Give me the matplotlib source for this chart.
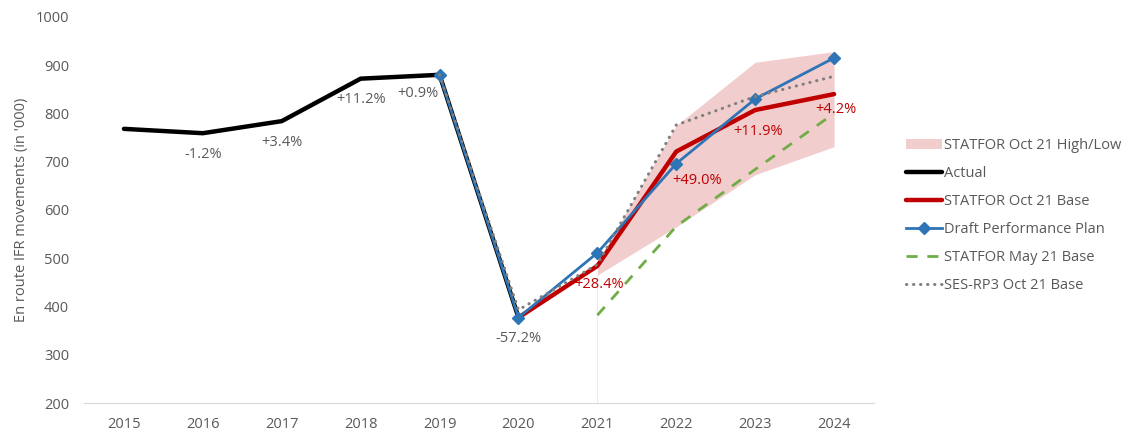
import matplotlib.pyplot as plt
import numpy as np

plt.rcParams['font.family'] = ['Open Sans', 'DejaVu Sans']

years = [2015, 2016, 2017, 2018, 2019, 2020, 2021, 2022, 2023, 2024]

# traffic in thousands of en route IFR movements
actual_years = [2015, 2016, 2017, 2018, 2019, 2020]
actual = [768, 759, 784, 872, 880, 377]
actual_labels = ['', '-1.2%', '+3.4%', '+11.2%', '+0.9%', '-57.2%']

base_years = [2020, 2021, 2022, 2023, 2024]
oct21_base = [377, 484, 721, 807, 840]
base_labels = ['', '+28.4%', '+49.0%', '+11.9%', '+4.2%']

band_years = [2021, 2022, 2023, 2024]
oct21_high = [492, 775, 906, 928]
oct21_low = [465, 565, 673, 731]

plan_years = [2019, 2020, 2021, 2022, 2023, 2024]
draft_plan = [880, 377, 511, 696, 830, 915]

may21_years = [2021, 2022, 2023, 2024]
may21_base = [382, 566, 684, 800]

rp3_years = [2019, 2020, 2021, 2022, 2023, 2024]
rp3_base = [880, 393, 487, 776, 835, 877]

grey = '#595959'

fig = plt.figure(figsize=(11.28, 4.34), dpi=100)
ax = fig.add_axes([0.0749, 0.0714, 0.6995, 0.8897])

ax.fill_between(band_years, oct21_low, oct21_high, color='#f2cdcd', lw=0,
                label='STATFOR Oct 21 High/Low', zorder=1)
ax.vlines(band_years[0], 200, oct21_low[0], color='#ececec', lw=0.8, zorder=1)
ax.plot(actual_years, actual, color='black', lw=3.2, solid_capstyle='round',
        label='Actual', zorder=3)
ax.plot(base_years, oct21_base, color='#c00000', lw=3.2, solid_capstyle='round',
        label='STATFOR Oct 21 Base', zorder=4)
ax.plot(plan_years, draft_plan, color='#2e75b6', lw=2, marker='D', ms=6,
        label='Draft Performance Plan', zorder=5)
ax.plot(may21_years, may21_base, color='#70ad47', lw=2, ls=(0, (4, 3.5)),
        label='STATFOR May 21 Base', zorder=4)
ax.plot(rp3_years, rp3_base, color='#7f7f7f', lw=2.2, ls=(0, (0.1, 2.2)),
        dash_capstyle='round', label='SES-RP3 Oct 21 Base', zorder=6)

# growth rate labels
for x, y, t in zip(actual_years, actual, actual_labels):
    if not t:
        continue
    if t == '+0.9%':
        ax.annotate(t, (x, y), xytext=(-22, -19), textcoords='offset pixels',
                    ha='center', va='center', fontsize=10.5, color=grey,
                    arrowprops=dict(arrowstyle='-', color='#a6a6a6', lw=0.7,
                                    shrinkA=6, shrinkB=3))
    else:
        ax.annotate(t, (x, y), xytext=(0, -21), textcoords='offset pixels',
                    ha='center', va='center', fontsize=10.5, color=grey)

base_offsets = [None, (2, -19), (21, -29), (3, -21), (2, -15)]
for x, y, t, off in zip(base_years, oct21_base, base_labels, base_offsets):
    if not t:
        continue
    ax.annotate(t, (x, y), xytext=off, textcoords='offset pixels',
                ha='center', va='center', fontsize=10.5, color='#c00000', zorder=7)

ax.set_xlim(2014.5, 2024.5)
ax.set_ylim(200, 1000)
ax.set_xticks(years)
ax.set_yticks(np.arange(200, 1001, 100))
ax.tick_params(length=0, labelsize=10.5, labelcolor=grey, pad=10)
ax.tick_params(axis='y', pad=11)
for s in ['top', 'right', 'left']:
    ax.spines[s].set_visible(False)
ax.spines['bottom'].set_color('#d9d9d9')
ax.set_ylabel("En route IFR movements (in '000)", fontsize=10.5, color=grey,
              labelpad=5)

ax.legend(loc='upper left', bbox_to_anchor=(0.803, 0.681),
          bbox_transform=fig.transFigure, frameon=False, fontsize=10.5,
          handlelength=2.5, handletextpad=0.15, labelspacing=0.89,
          borderaxespad=0, borderpad=0, labelcolor=grey)

plt.savefig('out.png', dpi=100)
